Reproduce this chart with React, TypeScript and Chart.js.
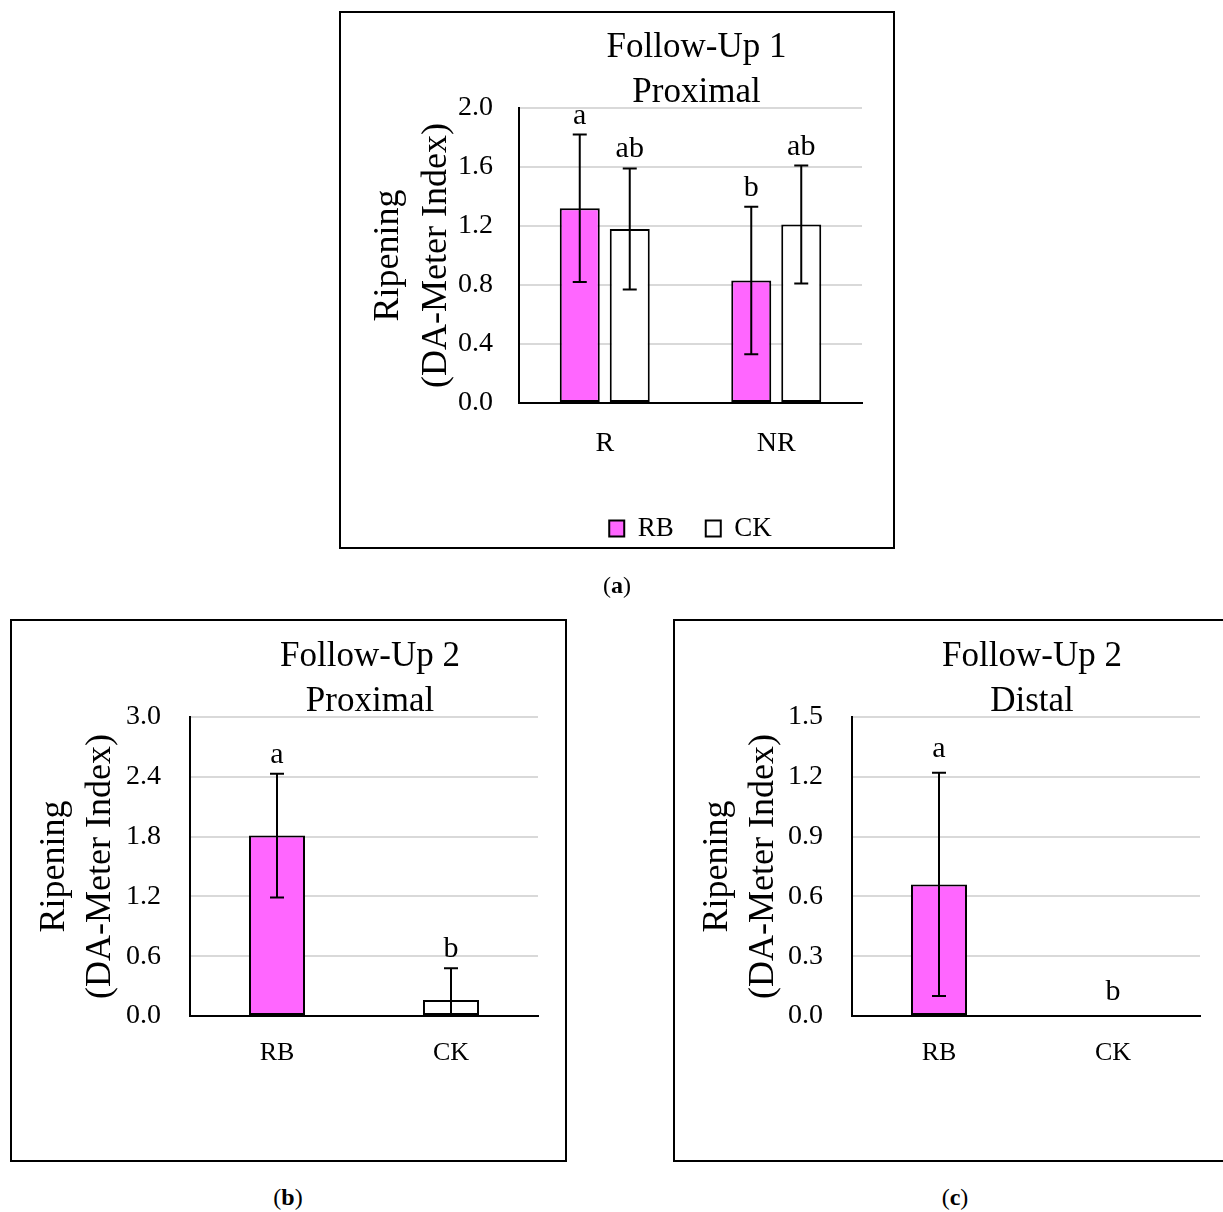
import React, { useEffect, useRef } from 'react';
import { Chart, registerables } from 'chart.js';

Chart.register(...registerables);

const FONT = "'Liberation Serif', 'Times New Roman', serif";
const PINK = '#FF66FF';
const WHITE = '#FFFFFF';

// ---------- (a) Follow-Up 1, Proximal ----------
const A_CATEGORIES = ['R', 'NR'];
const A_RB = [1.32, 0.83];
const A_RB_ERR = [0.5, 0.5];
const A_RB_LETTERS = ['a', 'b'];
const A_CK = [1.18, 1.21];
const A_CK_ERR = [0.41, 0.4];
const A_CK_LETTERS = ['ab', 'ab'];
const A_Y_TICKS = [0, 0.4, 0.8, 1.2, 1.6, 2.0];
const A_TITLE = ['Follow-Up 1', 'Proximal'];

// ---------- (b) Follow-Up 2, Proximal ----------
const B_CATEGORIES = ['RB', 'CK'];
const B_VALUES = [1.81, 0.16];
const B_ERR = [0.62, 0.32];
const B_LETTERS = ['a', 'b'];
const B_Y_TICKS = [0, 0.6, 1.2, 1.8, 2.4, 3.0];
const B_TITLE = ['Follow-Up 2', 'Proximal'];

// ---------- (c) Follow-Up 2, Distal ----------
const C_CATEGORIES = ['RB', 'CK'];
const C_VALUES = [0.66, 0];
const C_ERR = [0.56, 0];
const C_LETTERS = ['a', 'b'];
const C_Y_TICKS = [0, 0.3, 0.6, 0.9, 1.2, 1.5];
const C_TITLE = ['Follow-Up 2', 'Distal'];

const Y_TITLE = ['Ripening', '(DA-Meter Index)'];

// Frame around each panel
const framePlugin = {
  id: 'frame',
  afterDraw(chart: any, _args: any, opts: any) {
    if (!opts || !opts.rect) return;
    const ctx = chart.ctx;
    const [x, y, w, h] = opts.rect;
    ctx.save();
    ctx.strokeStyle = '#000';
    ctx.lineWidth = 2;
    ctx.strokeRect(x, y, w, h);
    ctx.restore();
  },
};

// Two-line panel title above the plot area
const panelTitlePlugin = {
  id: 'panelTitle',
  afterDraw(chart: any, _args: any, opts: any) {
    if (!opts || !opts.lines) return;
    const ctx = chart.ctx;
    const a = chart.chartArea;
    const cx = (a.left + a.right) / 2 + (opts.dx || 0);
    ctx.save();
    ctx.fillStyle = '#000';
    ctx.font = `${opts.size}px ${FONT}`;
    ctx.textAlign = 'center';
    ctx.textBaseline = 'alphabetic';
    ctx.fillText(opts.lines[0], cx, a.top - opts.b1);
    ctx.fillText(opts.lines[1], cx, a.top - opts.b2);
    ctx.restore();
  },
};

// Error bars + significance letters
const errorBarPlugin = {
  id: 'errorBars',
  afterDatasetsDraw(chart: any, _args: any, opts: any) {
    const ctx = chart.ctx;
    const ys = chart.scales.y;
    chart.data.datasets.forEach((ds: any, di: number) => {
      const meta = chart.getDatasetMeta(di);
      meta.data.forEach((bar: any, i: number) => {
        const v = ds.data[i];
        const e = (ds.errors && ds.errors[i]) || 0;
        const x = bar.x;
        const topPx = ys.getPixelForValue(v + e);
        ctx.save();
        ctx.strokeStyle = '#000';
        ctx.lineWidth = 2;
        if (e > 0) {
          const lo = v - e;
          const loPx = ys.getPixelForValue(Math.max(lo, ys.min));
          ctx.beginPath();
          ctx.moveTo(x, topPx);
          ctx.lineTo(x, loPx);
          ctx.moveTo(x - 7, topPx);
          ctx.lineTo(x + 7, topPx);
          if (lo >= ys.min) {
            ctx.moveTo(x - 7, loPx);
            ctx.lineTo(x + 7, loPx);
          }
          ctx.stroke();
        }
        const letter = ds.letters && ds.letters[i];
        if (letter) {
          ctx.fillStyle = '#000';
          ctx.font = `${opts.size || 29}px ${FONT}`;
          ctx.textAlign = 'center';
          ctx.textBaseline = 'alphabetic';
          ctx.fillText(letter, x, topPx - (opts.gap || 11));
        }
        ctx.restore();
      });
    });
  },
};

type Spec = {
  categories: string[];
  datasets: any[];
  yTicks: number[];
  title: string[];
  frame: number[];
  padding: { left: number; top: number; right: number; bottom: number };
  yWidth: number;
  yTickPad: number;
  yTitlePadTop: number;
  yTitleLine: number;
  xHeight: number;
  xFont: number;
  xPad: number;
  legend: boolean;
  categoryPercentage: number;
  barPercentage: number;
  letterGap: number;
};

function makeConfig(s: Spec): any {
  return {
    type: 'bar',
    data: {
      labels: s.categories,
      datasets: s.datasets.map((d) => ({
        ...d,
        borderColor: '#000',
        borderWidth: 2,
        borderSkipped: false,
        categoryPercentage: s.categoryPercentage,
        barPercentage: s.barPercentage,
      })),
    },
    options: {
      responsive: false,
      animation: false,
      events: [],
      devicePixelRatio: 1,
      layout: { padding: s.padding },
      font: { family: FONT },
      color: '#000',
      scales: {
        x: {
          grid: { display: false, drawTicks: false },
          border: { display: true, color: '#000', width: 2, z: 1 },
          ticks: {
            color: '#000',
            font: { family: FONT, size: s.xFont },
            padding: s.xPad,
            maxRotation: 0,
          },
          afterFit: (sc: any) => {
            sc.height = s.xHeight;
          },
        },
        y: {
          min: s.yTicks[0],
          max: s.yTicks[s.yTicks.length - 1],
          afterBuildTicks: (sc: any) => {
            sc.ticks = s.yTicks.map((v) => ({ value: v }));
          },
          grid: { color: '#D9D9D9', lineWidth: 2, drawTicks: false },
          border: { display: true, color: '#000', width: 2, z: 1 },
          ticks: {
            color: '#000',
            font: { family: FONT, size: 28 },
            padding: s.yTickPad,
            callback: (v: any) => Number(v).toFixed(1),
          },
          title: {
            display: true,
            text: Y_TITLE,
            color: '#000',
            font: { family: FONT, size: 36, lineHeight: `${s.yTitleLine}px` },
            padding: { top: s.yTitlePadTop, bottom: 0 },
          },
          afterFit: (sc: any) => {
            sc.width = s.yWidth;
          },
        },
      },
      plugins: {
        legend: {
          display: s.legend,
          position: 'bottom',
          fullSize: false,
          labels: {
            color: '#000',
            font: { family: FONT, size: 27 },
            boxWidth: 15,
            boxHeight: 16,
            padding: 32,
          },
        },
        title: { display: false },
        tooltip: { enabled: false },
        frame: { rect: s.frame },
        panelTitle: { lines: s.title, size: 35, dx: 6, b1: 51, b2: 6 },
        errorBars: { size: 30, gap: s.letterGap },
      },
    },
    plugins: [framePlugin, panelTitlePlugin, errorBarPlugin],
  };
}

function Panel(props: { left: number; top: number; width: number; height: number; spec: Spec }) {
  const ref = useRef<HTMLCanvasElement>(null);
  useEffect(() => {
    if (!ref.current) return;
    const chart = new Chart(ref.current, makeConfig(props.spec));
    return () => chart.destroy();
  }, []);
  return (
    <canvas
      ref={ref}
      width={props.width}
      height={props.height}
      style={{ position: 'absolute', left: props.left, top: props.top, width: props.width, height: props.height }}
    />
  );
}

const specA: Spec = {
  categories: A_CATEGORIES,
  datasets: [
    { label: 'RB', data: A_RB, errors: A_RB_ERR, letters: A_RB_LETTERS, backgroundColor: PINK },
    { label: 'CK', data: A_CK, errors: A_CK_ERR, letters: A_CK_LETTERS, backgroundColor: WHITE },
  ],
  yTicks: A_Y_TICKS,
  title: A_TITLE,
  frame: [1, 1, 554, 536],
  padding: { left: 0, top: 97, right: 33, bottom: 19 },
  yWidth: 180,
  yTickPad: 26,
  yTitlePadTop: 26,
  yTitleLine: 48,
  xHeight: 80,
  xFont: 28,
  xPad: 24,
  legend: true,
  categoryPercentage: 0.583,
  barPercentage: 0.8,
  letterGap: 11,
};

const specB: Spec = {
  categories: B_CATEGORIES,
  datasets: [
    { label: 'Ripening', data: B_VALUES, errors: B_ERR, letters: B_LETTERS, backgroundColor: [PINK, WHITE] },
  ],
  yTicks: B_Y_TICKS,
  title: B_TITLE,
  frame: [1, 1, 555, 541],
  padding: { left: 0, top: 98, right: 29, bottom: 68 },
  yWidth: 180,
  yTickPad: 29,
  yTitlePadTop: 22,
  yTitleLine: 46,
  xHeight: 80,
  xFont: 26,
  xPad: 22,
  legend: false,
  categoryPercentage: 1,
  barPercentage: 0.322,
  letterGap: 11,
};

const specC: Spec = {
  categories: C_CATEGORIES,
  datasets: [
    { label: 'Ripening', data: C_VALUES, errors: C_ERR, letters: C_LETTERS, backgroundColor: [PINK, WHITE] },
  ],
  yTicks: C_Y_TICKS,
  title: C_TITLE,
  frame: [1, 1, 555, 541],
  padding: { left: 0, top: 98, right: 30, bottom: 68 },
  yWidth: 179,
  yTickPad: 29,
  yTitlePadTop: 22,
  yTitleLine: 46,
  xHeight: 80,
  xFont: 26,
  xPad: 22,
  legend: false,
  categoryPercentage: 1,
  barPercentage: 0.322,
  letterGap: 16,
};

function Caption(props: { cx: number; cy: number; letter: string }) {
  return (
    <div
      style={{
        position: 'absolute',
        left: props.cx - 40,
        top: props.cy - 15,
        width: 80,
        height: 30,
        lineHeight: '30px',
        textAlign: 'center',
        fontFamily: FONT,
        fontSize: 24,
        color: '#000',
      }}
    >
      (<b>{props.letter}</b>)
    </div>
  );
}

export default function App() {
  return (
    <div
      style={{
        position: 'absolute',
        left: 0,
        top: 0,
        width: 1223,
        height: 1212,
        overflow: 'hidden',
        background: '#fff',
      }}
    >
      <Panel left={339} top={11} width={556} height={560} spec={specA} />
      <Panel left={10} top={619} width={557} height={545} spec={specB} />
      <Panel left={673} top={619} width={557} height={545} spec={specC} />
      <Caption cx={617} cy={585} letter="a" />
      <Caption cx={288} cy={1197} letter="b" />
      <Caption cx={955} cy={1197} letter="c" />
    </div>
  );
}
